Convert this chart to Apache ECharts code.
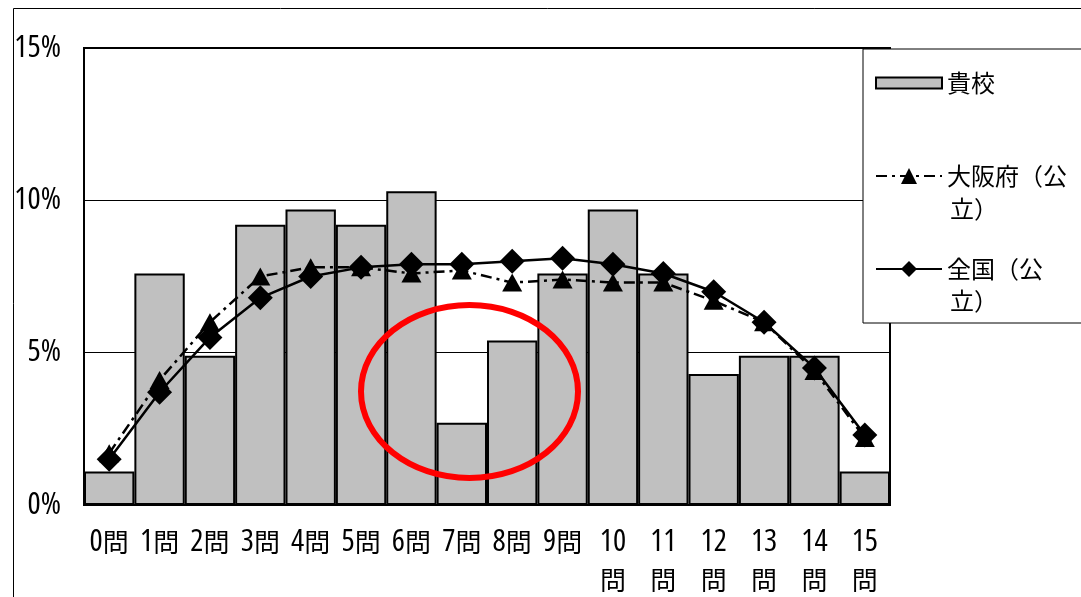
<!DOCTYPE html>
<html>
<head>
<meta charset="utf-8">
<script src="https://cdn.jsdelivr.net/npm/echarts@6/dist/echarts.min.js"></script>
<style>
  html, body { margin: 0; padding: 0; background: #fff; }
  #chart { width: 1081px; height: 597px; }
</style>
</head>
<body>
<div id="chart"></div>
<script>
// 正答数の分布（割合 %）
var categories = ["0", "1", "2", "3", "4", "5", "6", "7", "8", "9", "10", "11", "12", "13", "14", "15"];
var school = [1.1, 7.6, 4.9, 9.2, 9.7, 9.2, 10.3, 2.7, 5.4, 7.6, 9.7, 7.6, 4.3, 4.9, 4.9, 1.1];
var osaka = [1.7, 4.1, 6.0, 7.5, 7.8, 7.8, 7.6, 7.7, 7.3, 7.4, 7.3, 7.3, 6.7, 6.0, 4.4, 2.2];
var zenkoku = [1.5, 3.7, 5.5, 6.8, 7.5, 7.8, 7.9, 7.9, 8.0, 8.1, 7.9, 7.6, 7.0, 6.0, 4.5, 2.3];
var yTicks = [0, 5, 10, 15];

// 細い数字用（Open Sans の condensed 体）
var narrow = "'Open Sans', sans-serif";
var cjk = "'Noto Sans CJK JP', sans-serif";

var chart = echarts.init(document.getElementById("chart"));

var option = {
  backgroundColor: "#fff",
  animation: false,
  grid: {
    left: 84, right: 191, top: 48, bottom: 92,
    show: true, borderColor: "#000", borderWidth: 2
  },
  xAxis: {
    type: "category",
    data: categories,
    axisLine: { lineStyle: { color: "#000", width: 2 } },
    axisTick: { show: false },
    axisLabel: {
      margin: 18,
      interval: 0,
      formatter: function (v) {
        return Number(v) < 10 ? "{n|" + v + "}{q|問}" : "{n|" + v + "}\n{q|問}";
      },
      rich: {
        n: { fontFamily: narrow, fontWeight: "condensed", fontSize: 31, color: "#000", lineHeight: 38 },
        q: { fontFamily: cjk, fontSize: 26, color: "#000", lineHeight: 38 }
      }
    }
  },
  yAxis: {
    type: "value",
    min: yTicks[0],
    max: yTicks[yTicks.length - 1],
    interval: 5,
    axisLine: { show: true, lineStyle: { color: "#000", width: 2 } },
    axisTick: { show: false },
    splitLine: { lineStyle: { color: "#000", width: 1 } },
    axisLabel: {
      margin: 23,
      formatter: "{value}%",
      fontFamily: narrow,
      fontWeight: "condensed",
      fontSize: 31,
      color: "#000"
    }
  },
  legend: {
    orient: "vertical",
    left: 863,
    top: 49,
    padding: [18, 45, 38, 12],
    itemGap: 61,
    itemWidth: 66,
    itemHeight: 20,
    selectedMode: false,
    backgroundColor: "#fff",
    borderColor: "#000",
    borderWidth: 1,
    textStyle: { fontFamily: cjk, fontSize: 24, color: "#000", lineHeight: 32 },
    formatter: function (name) { return name.replace("立）", ""); },
    data: [
      { name: "貴校", icon: "path://M0,0H66V11H0Z" },
      { name: "大阪府（公立）" },
      { name: "全国（公立）" }
    ]
  },
  graphic: [
    {
      type: "rect", z: 0, silent: true,
      shape: { x: 13.5, y: 8.5, width: 1100, height: 620 },
      style: { fill: null, stroke: "#000", lineWidth: 1 }
    },
    {
      type: "text", z: 100, left: 950, top: 197,
      style: { text: "立）", font: "24px " + cjk, fill: "#000" }
    },
    {
      type: "text", z: 100, left: 950, top: 289,
      style: { text: "立）", font: "24px " + cjk, fill: "#000" }
    },
    {
      type: "ellipse", z: 100, silent: true,
      shape: { cx: 469.5, cy: 391.5, rx: 108.5, ry: 86.5 },
      style: { fill: null, stroke: "#ff0000", lineWidth: 6 }
    }
  ],
  series: [
    {
      name: "貴校",
      type: "bar",
      data: school,
      barCategoryGap: 0,
      itemStyle: { color: "#c0c0c0", borderColor: "#000", borderWidth: 2 }
    },
    {
      name: "大阪府（公立）",
      type: "line",
      data: osaka,
      symbol: "triangle",
      symbolSize: [20, 18],
      lineStyle: { color: "#000", width: 2.5, type: [11, 5, 3, 5] },
      itemStyle: { color: "#000" }
    },
    {
      name: "全国（公立）",
      type: "line",
      data: zenkoku,
      symbol: "diamond",
      symbolSize: 25,
      lineStyle: { color: "#000", width: 2.5 },
      itemStyle: { color: "#000" }
    }
  ]
};

chart.setOption(option);
</script>
</body>
</html>
